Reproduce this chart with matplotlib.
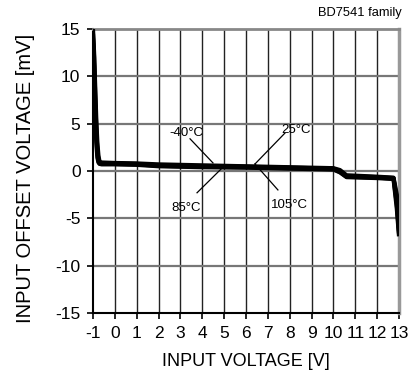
import numpy as np
import matplotlib.pyplot as plt

plt.rcParams['font.family'] = ['Liberation Sans', 'DejaVu Sans']
plt.rcParams['axes.unicode_minus'] = False

# input voltage [V] and offset voltage [mV], one series per temperature
vin = [-1.0, -0.95, -0.9, -0.85, -0.8, -0.75, -0.7, -0.6, 0.0, 1.0, 2.0, 4.0, 6.0, 8.0, 10.0, 10.3, 10.6, 12.0, 12.75, 12.9, 13.0]
vos_m40 = [15.0, 12.5, 9.0, 5.5, 3.0, 1.6, 1.0, 0.9, 0.85, 0.8, 0.7, 0.6, 0.5, 0.4, 0.3, 0.1, -0.45, -0.6, -0.7, -2.5, -6.0]
vos_25 = [14.5, 12.0, 8.0, 4.5, 2.2, 1.2, 0.85, 0.8, 0.8, 0.75, 0.6, 0.5, 0.45, 0.35, 0.25, 0.0, -0.55, -0.65, -0.75, -3.0, -6.3]
vos_85 = [14.0, 11.0, 7.0, 3.8, 1.8, 1.0, 0.8, 0.75, 0.75, 0.7, 0.55, 0.45, 0.4, 0.3, 0.2, -0.1, -0.6, -0.7, -0.8, -3.5, -6.6]
vos_105 = [13.5, 10.0, 6.0, 3.0, 1.4, 0.9, 0.75, 0.7, 0.7, 0.65, 0.5, 0.4, 0.35, 0.25, 0.15, -0.15, -0.65, -0.75, -0.85, -4.0, -6.9]

xticks = list(range(-1, 14))
yticks = [-15, -10, -5, 0, 5, 10, 15]

fig = plt.figure(figsize=(4.09, 3.79), dpi=100)
ax = fig.add_axes([93 / 409, 1 - 313 / 379, 306 / 409, 284 / 379])

for v in [vos_m40, vos_25, vos_85, vos_105]:
    ax.plot(vin, v, color='black', lw=3, solid_capstyle='butt', zorder=3)

ax.set_xlim(-1, 13)
ax.set_ylim(-15, 15)
ax.set_xticks(xticks)
ax.set_yticks(yticks)
for x in xticks[1:-1]:
    ax.axvline(x, color='#222222', lw=1.0, zorder=1)
for y in yticks[1:-1]:
    ax.axhline(y, color='#777777', lw=1.6, zorder=1)

ax.spines['left'].set_color('black')
ax.spines['bottom'].set_color('black')
ax.spines['left'].set_linewidth(1.5)
ax.spines['bottom'].set_linewidth(1.5)
ax.spines['top'].set_color('#888888')
ax.spines['right'].set_color('#999999')
ax.spines['top'].set_linewidth(2)
ax.spines['right'].set_linewidth(2.5)
ax.tick_params(direction='out', length=4, width=1.2, labelsize=12.5, pad=5)

ax.set_xlabel('INPUT VOLTAGE [V]', fontsize=13, labelpad=9)
ax.set_ylabel('INPUT OFFSET VOLTAGE [mV]', fontsize=14.5)
ax.yaxis.set_label_coords(-0.19, 0.475)
fig.text(402 / 409, 1 - 13 / 379, 'BD7541 family', fontsize=9.3, ha='right', va='center')

# temperature labels with leader lines
ax.plot([3.44, 4.49], [3.4, 0.85], color='black', lw=0.9, zorder=4)
ax.text(3.25, 4.0, '-40°C', fontsize=9.5, ha='center', va='center')
ax.plot([3.76, 4.9], [-2.3, 0.3], color='black', lw=0.9, zorder=4)
ax.text(3.25, -3.9, '85°C', fontsize=9.5, ha='center', va='center')
ax.plot([6.41, 7.78], [0.74, 4.0], color='black', lw=0.9, zorder=4)
ax.text(8.3, 4.3, '25°C', fontsize=9.5, ha='center', va='center')
ax.plot([6.41, 7.46], [0.74, -2.0], color='black', lw=0.9, zorder=4)
ax.text(8.0, -3.6, '105°C', fontsize=9.5, ha='center', va='center')

fig.savefig('out.png', dpi=100)
